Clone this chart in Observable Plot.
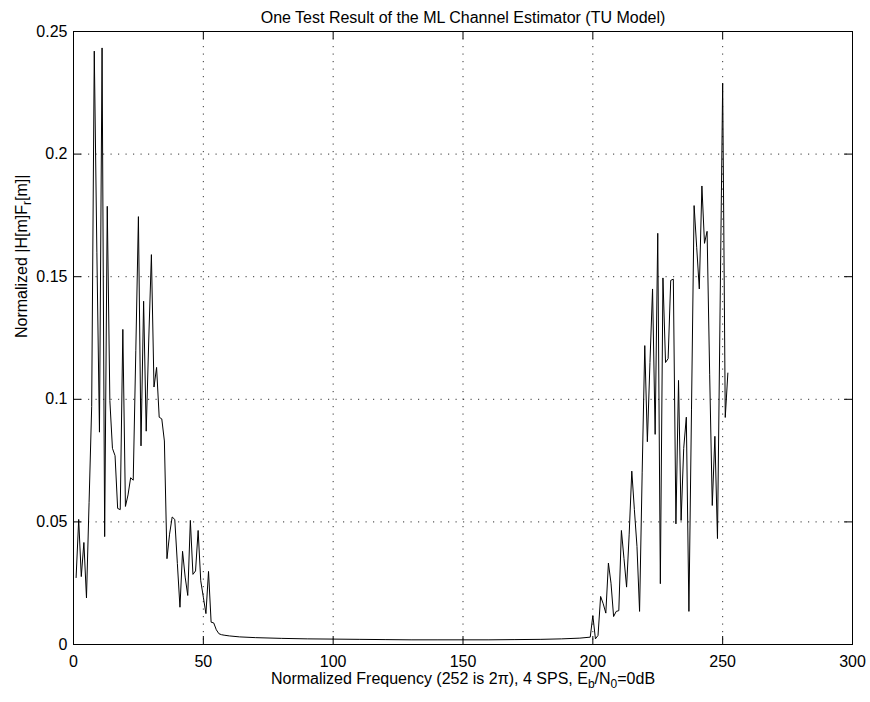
<!DOCTYPE html>
<html><head><meta charset="utf-8">
<script src="https://cdn.jsdelivr.net/npm/d3@7"></script>
<script src="https://cdn.jsdelivr.net/npm/@observablehq/plot@0.6"></script>
<style>html,body{margin:0;padding:0;background:#fff}svg{display:block}</style>
</head><body><div id="chart"></div>
<script>
const titleText = "One Test Result of the ML Channel Estimator (TU Model)";
const xLabelParts = [["Normalized Frequency (252 is 2\u03c0), 4 SPS, E", 0], ["b", 1], ["/N", 0], ["0", 1], ["=0dB", 0]];
const yLabelParts = [["Normalized |H[m]F", 0], ["r", 1], ["[m]|", 0]];
const xTicks = [0, 50, 100, 150, 200, 250, 300];
const xTickLabels = ["0", "50", "100", "150", "200", "250", "300"];
const yTicks = [0, 0.05, 0.1, 0.15, 0.2, 0.25];
const yTickLabels = ["0", "0.05", "0.1", "0.15", "0.2", "0.25"];

const freq = [
  1,2,3,4,5,6,7,8,9,10,11,12,13,14,15,16,17,18,19,20,
  21,22,23,24,25,26,27,28,29,30,31,32,33,34,35,36,37,38,39,40,
  41,42,43,44,45,46,47,48,49,50,51,52,53,54,55,56,57,58,60,64,
  70,80,90,100,110,120,130,140,150,160,170,180,188,195,199,
  200,201,202,203,204,205,206,207,208,209,210,211,212,213,214,215,216,217,218,219,
  220,221,222,223,224,225,226,227,228,229,230,231,232,233,234,235,236,237,238,239,
  240,241,242,243,244,245,246,247,248,249,250,251,252
];
const mag = [
  0.0273,0.051,0.0277,0.0416,0.019,0.058,0.097,0.242,0.160,0.0866,0.2433,0.044,0.1787,0.0995,0.080,0.077,0.0555,0.055,0.1285,0.0563,
  0.061,0.068,0.067,0.120,0.1745,0.081,0.140,0.087,0.125,0.159,0.105,0.113,0.0927,0.092,0.083,0.035,0.045,0.052,0.051,0.033,
  0.0152,0.038,0.0275,0.020,0.0506,0.0286,0.030,0.0465,0.026,0.0193,0.0126,0.0298,0.0091,0.0088,0.006,0.0044,0.0040,0.0038,0.0035,0.0031,
  0.0028,0.0025,0.0023,0.0022,0.0021,0.0020,0.0019,0.0019,0.0019,0.0019,0.0020,0.0021,0.0023,0.0026,0.0030,
  0.0118,0.0023,0.0037,0.0196,0.0166,0.0128,0.0332,0.025,0.0114,0.0135,0.0138,0.0465,0.035,0.0234,0.045,0.0707,0.055,0.040,0.0135,0.070,
  0.1219,0.0827,0.115,0.145,0.0857,0.1677,0.0248,0.1495,0.115,0.1166,0.1485,0.149,0.0492,0.1077,0.0506,0.080,0.0927,0.0135,0.096,0.179,
  0.162,0.145,0.187,0.1636,0.1685,0.110,0.0567,0.0849,0.0432,0.136,0.2289,0.0926,0.1107
];

const data = freq.map((f, i) => ({f, m: mag[i]}));

const W = 870, H = 702, mL = 73, mR = 18, mT = 31, mB = 58;
const innerW = W - mL - mR, innerH = H - mT - mB;
const tickLen = 8;
const font = "'Liberation Sans', Arial, Helvetica, sans-serif";
const joinParts = (p) => p.map(d => d[0]).join("");

const chart = Plot.plot({
  width: W, height: H,
  marginLeft: mL, marginRight: mR, marginTop: mT, marginBottom: mB,
  style: {fontFamily: font, fontSize: "16px", background: "#fff", color: "#000", overflow: "visible"},
  x: {domain: [0, 300], label: null},
  y: {domain: [0, 0.25], label: null},
  marks: [
    Plot.gridX(xTicks, {stroke: "#000", strokeOpacity: 0.8, strokeWidth: 1, strokeDasharray: "1.2,6.3"}),
    Plot.gridY(yTicks, {stroke: "#000", strokeOpacity: 0.8, strokeWidth: 1, strokeDasharray: "1.2,6.3"}),
    Plot.line(data, {x: "f", y: "m", stroke: "#000", strokeWidth: 1}),
    Plot.tickX(xTicks, {x: d => d, insetTop: innerH - tickLen, stroke: "#000"}),
    Plot.tickX(xTicks, {x: d => d, insetBottom: innerH - tickLen, stroke: "#000"}),
    Plot.tickY(yTicks, {y: d => d, insetRight: innerW - tickLen, stroke: "#000"}),
    Plot.tickY(yTicks, {y: d => d, insetLeft: innerW - tickLen, stroke: "#000"}),
    Plot.frame({stroke: "#000", strokeWidth: 1}),
    Plot.axisX(xTicks, {tickSize: 0, tickPadding: 11, fontSize: 16, tickFormat: d => xTickLabels[xTicks.indexOf(d)]}),
    Plot.axisY(yTicks, {tickSize: 0, tickPadding: 6, fontSize: 16, tickFormat: d => yTickLabels[yTicks.indexOf(d)]}),
    Plot.text([titleText], {text: d => d, frameAnchor: "top", dy: -20, fontSize: 16, fill: "#000"}),
    Plot.text([joinParts(xLabelParts)], {text: d => d, frameAnchor: "bottom", dy: 39, fontSize: 16, fill: "#000"}),
    Plot.text([joinParts(yLabelParts)], {text: d => d, frameAnchor: "left", dx: -52, rotate: -90, fontSize: 16, fill: "#000"})
  ]
});

function subscriptify(svg, parts) {
  const full = joinParts(parts);
  d3.select(svg).selectAll("text").filter(function() { return this.textContent === full; }).each(function() {
    const t = d3.select(this);
    t.text(null);
    let shifted = false;
    parts.forEach(([s, sub]) => {
      const ts = t.append("tspan").text(s);
      if (sub && !shifted) { ts.attr("dy", "4").attr("font-size", "12px"); shifted = true; }
      else if (!sub && shifted) { ts.attr("dy", "-4"); shifted = false; }
    });
  });
}
subscriptify(chart, xLabelParts);
subscriptify(chart, yLabelParts);

document.getElementById("chart").appendChild(chart);
</script>
</body></html>
